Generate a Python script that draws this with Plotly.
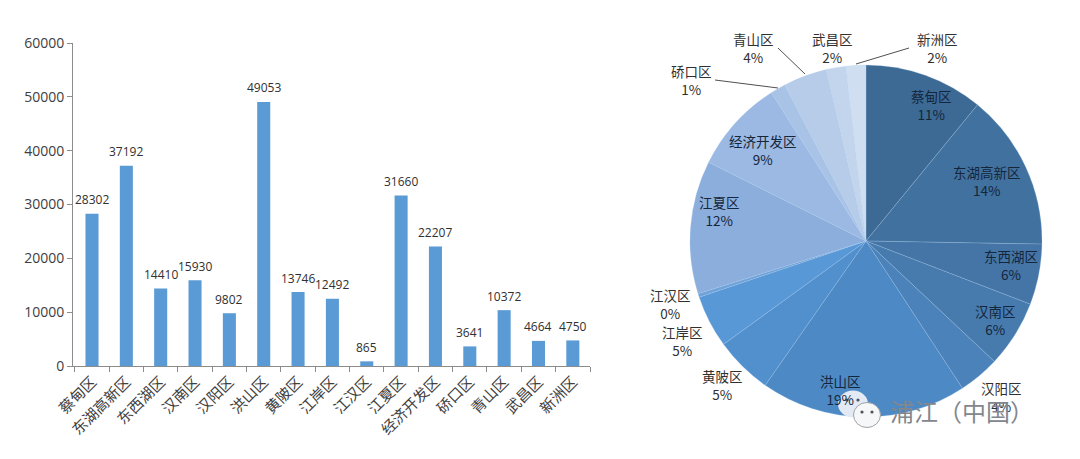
import base64
import plotly.graph_objects as go

# ---------- data ----------
districts = ["蔡甸区", "东湖高新区", "东西湖区", "汉南区", "汉阳区", "洪山区", "黄陂区", "江岸区",
             "江汉区", "江夏区", "经济开发区", "硚口区", "青山区", "武昌区", "新洲区"]
values = [28302, 37192, 14410, 15930, 9802, 49053, 13746, 12492,
          865, 31660, 22207, 3641, 10372, 4664, 4750]
percent_labels = ["11%", "14%", "6%", "6%", "4%", "19%", "5%", "5%",
                  "0%", "12%", "9%", "1%", "4%", "2%", "2%"]
y_ticks = [0, 10000, 20000, 30000, 40000, 50000, 60000]
slice_colors = ["#3C6A94", "#41719F", "#4475A6", "#477BAE", "#4A82B9", "#4D89C4", "#5290CD", "#5898D7",
                "#6FA3D9", "#8CAEDD", "#9BB9E2", "#A9C3E6", "#B6CCE9", "#C3D5ED", "#CFDFF1"]

# ---------- layout helpers ----------
W, H = 1080, 459
PLOT_L, PLOT_R, PLOT_T, PLOT_B = 73, 590, 43, 366
PIE_L, PIE_R, PIE_T, PIE_B = 690, 1042, 65, 417
CJK = "Noto Sans CJK SC, Open Sans, sans-serif"
NUM = "Open Sans, Noto Sans CJK SC, sans-serif"
TEXT = "#404040"


def px(x):
    return x / W


def py(y):
    return 1 - y / H


# pie label centres, pixels
label_pos = [(931, 105), (987, 181), (1011, 265), (995, 320), (1001, 397), (840, 390), (722, 385), (682, 341),
             (670, 304), (719, 211), (763, 150), (691, 80), (753, 48), (832, 48), (937, 48)]
label_dark = [True, True, True, True, False, True, False, False,
              False, True, True, False, False, False, False]
leaders = [((715, 80), (778, 88)), ((778, 48), (805, 74)), ((909, 48), (856, 64))]

icon_svg = """<svg xmlns='http://www.w3.org/2000/svg' width='60' height='40' viewBox='0 0 60 40'>
<ellipse cx='15' cy='14' rx='15' ry='13.5' fill='#E3EAF3'/>
<ellipse cx='29' cy='25' rx='13.5' ry='12.5' fill='#F6F7F9' stroke='#9EA2A8' stroke-width='1'/>
<circle cx='9' cy='10' r='1.6' fill='#50545A'/><circle cx='20' cy='10' r='1.6' fill='#50545A'/>
<circle cx='24' cy='22' r='1.6' fill='#50545A'/><circle cx='34' cy='22' r='1.6' fill='#50545A'/>
</svg>"""
icon_uri = "data:image/svg+xml;base64," + base64.b64encode(icon_svg.encode()).decode()

fig = go.Figure()
fig.add_trace(go.Bar(x=districts, y=values, width=0.38, marker=dict(color="#5B9BD5", line=dict(width=0)),
                     showlegend=False, hoverinfo="x+y"))
fig.add_trace(go.Pie(labels=districts, values=values, sort=False, direction="clockwise", rotation=0,
                     textinfo="none", showlegend=False,
                     marker=dict(colors=slice_colors, line=dict(color="rgba(170,205,240,0.3)", width=0.8)),
                     domain=dict(x=[px(PIE_L), px(PIE_R)], y=[py(PIE_B), py(PIE_T)])))

annotations = []
for name, v in zip(districts, values):
    annotations.append(dict(x=name, y=v, xref="x", yref="y", text=str(v), showarrow=False, yshift=14,
                            yanchor="middle", font=dict(family=NUM, size=12, color="#303030")))
for name, pct, (lx, ly), dark in zip(districts, percent_labels, label_pos, label_dark):
    annotations.append(dict(x=px(lx), y=py(ly), xref="paper", yref="paper", text=f"{name}<br>{pct}",
                            showarrow=False, align="center", xanchor="center", yanchor="middle",
                            font=dict(family=CJK, size=13.5, color="#14263C" if dark else "#303030")))
annotations.append(dict(x=px(962), y=py(410), xref="paper", yref="paper", text="浦江（中国）", showarrow=False,
                        xanchor="center", yanchor="middle", font=dict(family=CJK, size=24, color="#83878D")))

shapes = [dict(type="line", xref="paper", yref="paper", x0=px(a[0]), y0=py(a[1]), x1=px(b[0]), y1=py(b[1]),
               line=dict(color="#505050", width=1)) for a, b in leaders]

fig.update_layout(
    width=W, height=H, autosize=False, paper_bgcolor="white", plot_bgcolor="white",
    margin=dict(l=0, r=0, t=0, b=0), bargap=0.62, annotations=annotations, shapes=shapes,
    images=[dict(source=icon_uri, xref="paper", yref="paper", x=px(838), y=py(390), sizex=60 / W, sizey=40 / H,
                 xanchor="left", yanchor="top", sizing="stretch", layer="above")],
    xaxis=dict(domain=[px(PLOT_L), px(PLOT_R)], type="category", tickson="boundaries", ticks="outside", ticklen=5,
               tickcolor="#8C8C8C", showline=True, linecolor="#8C8C8C", linewidth=1, tickangle=-45,
               tickfont=dict(family=CJK, size=15, color=TEXT), showgrid=False, automargin=False),
    yaxis=dict(domain=[py(PLOT_B), py(PLOT_T)], range=[0, 60000], tickvals=y_ticks, ticktext=[str(t) for t in y_ticks],
               ticks="outside", ticklen=5, tickcolor="#8C8C8C", showline=True, linecolor="#8C8C8C", linewidth=1,
               showgrid=False, zeroline=False,
               tickfont=dict(family=NUM, size=14, color=TEXT), automargin=False),
)
fig.write_html("out.html", post_script="document.body.style.margin='0';", config=dict(displayModeBar=False))
